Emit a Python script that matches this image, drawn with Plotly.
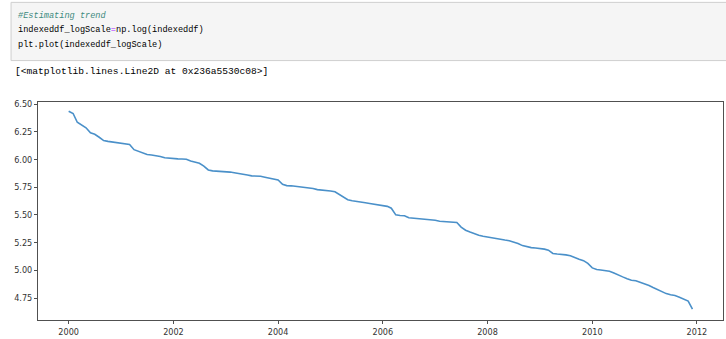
import pandas as pd
import plotly.graph_objects as go

# Monthly log-scaled index, Jan 2000 .. Dec 2011
dates = pd.date_range("2000-01-01", periods=144, freq="MS")
log_values = [
    6.435, 6.414, 6.335, 6.310, 6.285, 6.240, 6.227, 6.200, 6.170, 6.163, 6.157, 6.148,
    6.142, 6.138, 6.135, 6.088, 6.073, 6.052, 6.044, 6.040, 6.034, 6.027, 6.015, 6.010,
    6.008, 6.005, 6.004, 6.002, 5.985, 5.972, 5.966, 5.940, 5.905, 5.897, 5.895, 5.892,
    5.889, 5.886, 5.880, 5.875, 5.871, 5.860, 5.852, 5.851, 5.849, 5.840, 5.831, 5.824,
    5.815, 5.775, 5.764, 5.762, 5.758, 5.755, 5.750, 5.745, 5.738, 5.728, 5.725, 5.723,
    5.716, 5.709, 5.688, 5.660, 5.636, 5.627, 5.619, 5.614, 5.609, 5.603, 5.598, 5.593,
    5.585, 5.577, 5.560, 5.500, 5.494, 5.492, 5.474, 5.471, 5.468, 5.463, 5.460, 5.457,
    5.452, 5.443, 5.440, 5.438, 5.435, 5.431, 5.390, 5.362, 5.345, 5.330, 5.317, 5.308,
    5.300, 5.292, 5.282, 5.279, 5.273, 5.267, 5.256, 5.242, 5.223, 5.212, 5.205, 5.201,
    5.198, 5.191, 5.182, 5.152, 5.147, 5.145, 5.139, 5.131, 5.113, 5.100, 5.087, 5.062,
    5.022, 5.008, 5.003, 4.998, 4.992, 4.976, 4.956, 4.941, 4.925, 4.911, 4.906, 4.893,
    4.878, 4.863, 4.845, 4.826, 4.810, 4.790, 4.779, 4.773, 4.758, 4.744, 4.723, 4.650,
]

x_ticks = ["2000-01-01", "2002-01-01", "2004-01-01", "2006-01-01",
           "2008-01-01", "2010-01-01", "2012-01-01"]
x_tick_labels = ["2000", "2002", "2004", "2006", "2008", "2010", "2012"]
y_ticks = [4.75, 5.00, 5.25, 5.50, 5.75, 6.00, 6.25, 6.50]
y_tick_labels = ["4.75", "5.00", "5.25", "5.50", "5.75", "6.00", "6.25", "6.50"]

code_lines = [
    '<i><span style="color:#3d8a7e">#Estimating trend</span></i>',
    'indexeddf_logScale<span style="color:#aa22ff">=</span>np.log(indexeddf)',
    'plt.plot(indexeddf_logScale)',
]
output_line = "[&lt;matplotlib.lines.Line2D at 0x236a5530c08&gt;]"

W, H = 726, 339
L, R, T, B = 38, 2, 102, 16
PW, PH = W - L - R, H - T - B


def px(xp):
    return (xp - L) / PW


def py(yp):
    return (H - B - yp) / PH


tick_font = dict(family="Liberation Sans Narrow, DejaVu Sans Condensed, Arial", size=9, color="#333333")
frame = "#505050"

fig = go.Figure()
fig.add_trace(go.Scatter(
    x=dates, y=log_values, mode="lines",
    line=dict(color="#4a90c9", width=1.6),
    hoverinfo="skip", showlegend=False,
))

fig.update_layout(
    width=W, height=H,
    margin=dict(l=L, r=R, t=T, b=B, pad=0),
    paper_bgcolor="white", plot_bgcolor="white",
    xaxis=dict(
        range=["1999-06-01", "2012-07-01"],
        tickmode="array", tickvals=x_ticks, ticktext=x_tick_labels,
        showgrid=False, zeroline=False,
        showline=True, linecolor=frame, linewidth=1, mirror=True,
        ticks="outside", ticklen=3, tickcolor=frame, tickwidth=1,
        tickfont=tick_font,
    ),
    yaxis=dict(
        range=[4.552, 6.518],
        tickmode="array", tickvals=y_ticks, ticktext=y_tick_labels,
        showgrid=False, zeroline=False,
        showline=True, linecolor=frame, linewidth=1, mirror=True,
        ticks="outside", ticklen=3, tickcolor=frame, tickwidth=1,
        tickfont=tick_font,
    ),
)

# Code cell box
fig.add_shape(type="rect", xref="paper", yref="paper",
              x0=px(11), x1=px(730), y0=py(60), y1=py(1),
              fillcolor="#f5f5f5", line=dict(color="#cfcfcf", width=1), layer="below")

code_font = dict(family="Liberation Mono, DejaVu Sans Mono, monospace", size=8.6, color="#000000")
for i, line in enumerate(code_lines):
    fig.add_annotation(
        x=px(16), y=py(15 + i * 14.5), xref="paper", yref="paper",
        text=line, showarrow=False, xanchor="left", yanchor="middle",
        font=code_font,
    )

fig.add_annotation(
    x=px(13), y=py(71), xref="paper", yref="paper",
    text=output_line, showarrow=False, xanchor="left", yanchor="middle",
    font=dict(family="Liberation Mono, DejaVu Sans Mono, monospace", size=9.6, color="#000000"),
)

fig.write_html("out.html")
